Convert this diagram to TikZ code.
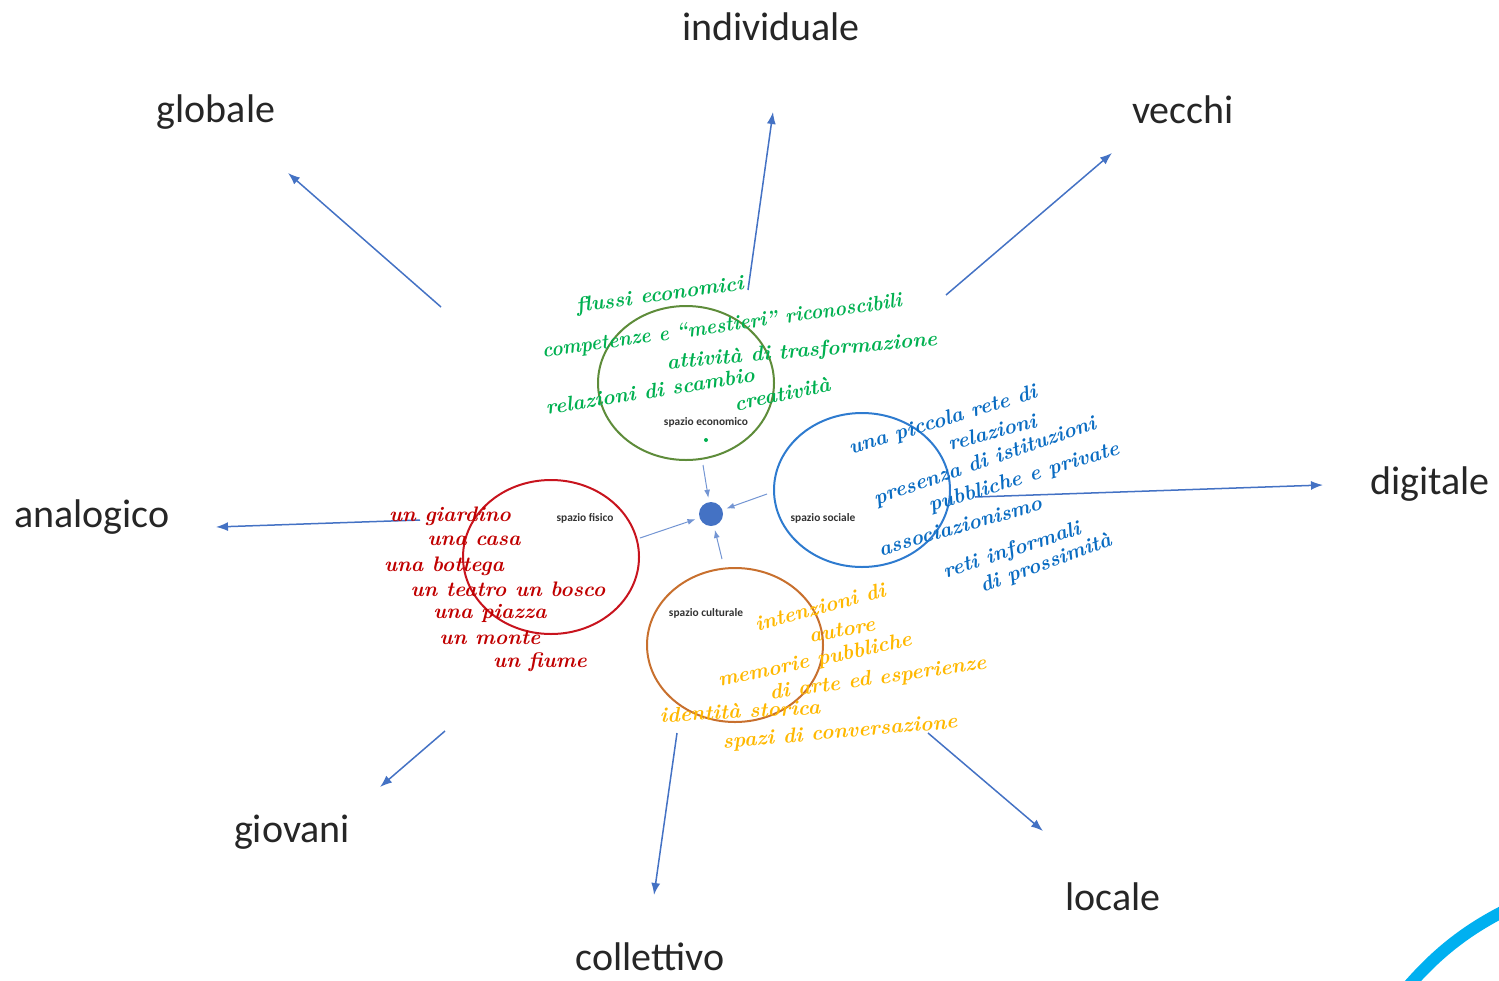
\documentclass[tikz,border=0pt]{standalone}
\usepackage[dvipsnames]{xcolor}
\usepackage{fontspec}
\usepackage{tikz}
\usetikzlibrary{arrows.meta,shapes.geometric}
\newfontfamily\calibri{Carlito}
\definecolor{axisblue}{HTML}{4472C4}
\definecolor{ecogreen}{HTML}{5E8C3A}
\definecolor{inkgreen}{HTML}{00B050}
\definecolor{socblue}{HTML}{2E7BCF}
\definecolor{inkblue}{HTML}{0A6CC2}
\definecolor{fisred}{HTML}{C8141E}
\definecolor{inkred}{HTML}{C00000}
\definecolor{culorange}{HTML}{C8702E}
\definecolor{inkyellow}{HTML}{FFB800}
\definecolor{arccyan}{HTML}{00B0F0}
\tikzset{
  pole/.style={font=\calibri\fontsize{20}{24}\selectfont, text=black!85, inner sep=0},
  axis/.style={axisblue, line width=0.75pt, -{Latex[length=6pt,width=4.5pt]}},
  feed/.style={axisblue!75, line width=0.5pt, -{Latex[length=4pt,width=3pt]}, shorten >=2pt},
  sphere/.style={draw, ellipse, line width=1pt, minimum width=88pt, minimum height=77pt},
  tag/.style={font=\calibri\bfseries\fontsize{5.7}{7}\selectfont, text=black!80, inner sep=0},
  hand/.style={font=\bfseries\itshape\fontsize{10.5}{12}\selectfont, inner sep=0}
}
\begin{document}
\begin{tikzpicture}[x=0.5pt, y=-0.5pt]
        \useasboundingbox (0,0) rectangle (1499,980);

        \node [pole] (individuale) at (771, 27) {individuale};
        \node [pole] (globale) at (216, 112) {globale};
        \node [pole] (vecchi) at (1183, 110) {vecchi};
        \node [pole] (analogico) at (92, 517) {analogico};
        \node [pole] (digitale) at (1430, 484) {digitale};
        \node [pole] (giovani) at (292, 832) {giovani};
        \node [pole] (collettivo) at (650, 957) {collettivo};
        \node [pole] (locale) at (1113, 897) {locale};

        \coordinate (ind0) at (748, 290);  \coordinate (ind1) at (773, 112);
        \coordinate (glo0) at (441, 307);  \coordinate (glo1) at (288, 173);
        \coordinate (vec0) at (946, 295);  \coordinate (vec1) at (1112, 153);
        \coordinate (ana0) at (420, 520);  \coordinate (ana1) at (216, 527);
        \coordinate (dig0) at (975, 497);  \coordinate (dig1) at (1323, 485);
        \coordinate (gio0) at (445, 731);  \coordinate (gio1) at (380, 787);
        \coordinate (col0) at (677, 733);  \coordinate (col1) at (654, 895);
        \coordinate (loc0) at (928, 733);  \coordinate (loc1) at (1043, 831);

        \draw [axis] (ind0) -- (ind1);
        \draw [axis] (glo0) -- (glo1);
        \draw [axis] (vec0) -- (vec1);
        \draw [axis] (ana0) -- (ana1);
        \draw [axis] (dig0) -- (dig1);
        \draw [axis] (gio0) -- (gio1);
        \draw [axis] (col0) -- (col1);
        \draw [axis] (loc0) -- (loc1);

        \node [sphere, ecogreen] (economico) at (686, 383) {};
        \node [sphere, socblue] (sociale) at (862, 490) {};
        \node [sphere, fisred] (fisico) at (551, 557) {};
        \node [sphere, culorange] (culturale) at (735, 645) {};

        \node [tag] (tageco) at (706, 422) {spazio economico};
        \node [tag] (tagsoc) at (823, 518) {spazio sociale};
        \node [tag] (tagfis) at (585, 518) {spazio fisico};
        \node [tag] (tagcul) at (706, 613) {spazio culturale};
        \node [circle, fill=inkgreen, inner sep=0, minimum size=2pt] (ecodot) at (706, 440) {};

        \node [circle, fill=axisblue, inner sep=0, minimum size=12pt] (centro) at (711, 514) {};
        \coordinate (fromeco) at (703, 465);
        \coordinate (fromsoc) at (767, 494);
        \coordinate (fromfis) at (640, 538);
        \coordinate (fromcul) at (722, 559);
        \draw [feed] (fromeco) -- (centro);
        \draw [feed] (fromsoc) -- (centro);
        \draw [feed] (fromfis) -- (centro);
        \draw [feed] (fromcul) -- (centro);

        \node [hand, inkgreen, rotate=8] (eco1) at (660, 296) {flussi economici};
        \node [hand, inkgreen, rotate=8, xscale=0.92] (eco2) at (722, 327) {competenze e ``mestieri'' riconoscibili};
        \node [hand, inkgreen, rotate=5] (eco3) at (802, 352) {attività di trasformazione};
        \node [hand, inkgreen, rotate=9] (eco4) at (650, 391) {relazioni di scambio};
        \node [hand, inkgreen, rotate=12] (eco5) at (782, 394) {creatività};

        \node [hand, inkblue, rotate=17] (soc1) at (943, 421) {una piccola rete di};
        \node [hand, inkblue, rotate=15] (soc2) at (992, 432) {relazioni};
        \node [hand, inkblue, rotate=19] (soc3) at (985, 462) {presenza di istituzioni};
        \node [hand, inkblue, rotate=17] (soc4) at (1024, 478) {pubbliche e private};
        \node [hand, inkblue, rotate=16] (soc5) at (960, 526) {associazionismo};
        \node [hand, inkblue, rotate=18] (soc6) at (1012, 551) {reti informali};
        \node [hand, inkblue, rotate=20] (soc7) at (1046, 564) {di prossimità};

        \node [hand, inkred] (fis1) at (450, 516) {un giardino};
        \node [hand, inkred] (fis2) at (474, 541) {una casa};
        \node [hand, inkred] (fis3) at (444, 566) {una bottega};
        \node [hand, inkred] (fis4) at (508, 589) {un teatro un bosco};
        \node [hand, inkred] (fis5) at (490, 613) {una piazza};
        \node [hand, inkred] (fis6) at (490, 638) {un monte};
        \node [hand, inkred] (fis7) at (540, 662) {un fiume};

        \node [hand, inkyellow, rotate=15] (cul1) at (820, 607) {intenzioni di};
        \node [hand, inkyellow, rotate=10] (cul2) at (842, 630) {autore};
        \node [hand, inkyellow, rotate=12] (cul3) at (815, 661) {memorie pubbliche};
        \node [hand, inkyellow, rotate=8] (cul4) at (878, 679) {di arte ed esperienze};
        \node [hand, inkyellow, rotate=3] (cul5) at (740, 711) {identità storica};
        \node [hand, inkyellow, rotate=5] (cul6) at (840, 733) {spazi di conversazione};

        \draw [arccyan, line width=6pt] (1405, 990) .. controls (1435, 955) and (1465, 930) .. (1510, 908);
      \end{tikzpicture}
\end{document}
